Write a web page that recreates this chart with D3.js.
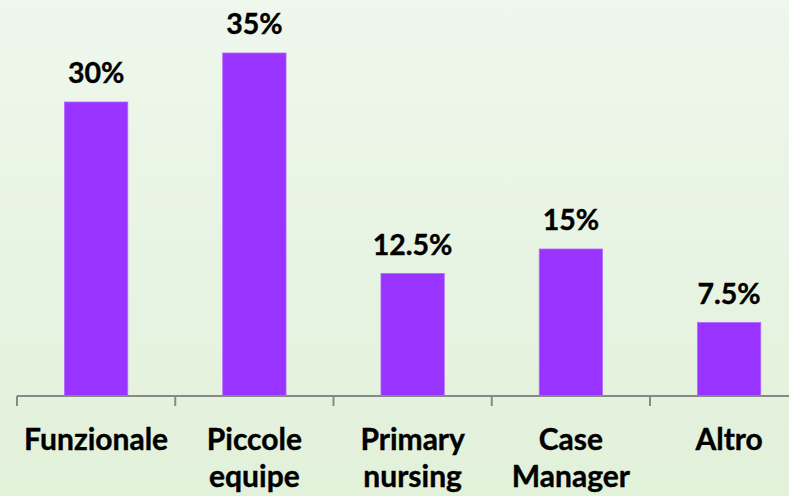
<!DOCTYPE html>
<html>
<head>
<meta charset="utf-8">
<script src="https://cdn.jsdelivr.net/npm/d3@7"></script>
<style>
  body { margin: 0; }
  svg { display: block; }
  text { font-family: Lato, "Open Sans", sans-serif; font-weight: bold; fill: #000; }
</style>
</head>
<body>
<svg id="chart" width="789" height="496"></svg>
<script>
// dati
var categorie = ["Funzionale", "Piccole equipe", "Primary nursing", "Case Manager", "Altro"];
var righe_etichetta = [["Funzionale"], ["Piccole", "equipe"], ["Primary", "nursing"], ["Case", "Manager"], ["Altro"]];
var valori = [30, 35, 12.5, 15, 7.5];
var etichette_valori = ["30%", "35%", "12.5%", "15%", "7.5%"];

var width = 789, height = 496;
var svg = d3.select("#chart");

// sfondo sfumato
var defs = svg.append("defs");
var grad = defs.append("linearGradient")
    .attr("id", "sfondo")
    .attr("x1", 0).attr("y1", 0).attr("x2", 0).attr("y2", 1);
grad.append("stop").attr("offset", "0%").attr("stop-color", "#eef7ec");
grad.append("stop").attr("offset", "100%").attr("stop-color", "#e2f1da");

svg.append("rect")
    .attr("width", width)
    .attr("height", height)
    .attr("fill", "url(#sfondo)");

var x = d3.scaleBand()
    .domain(categorie)
    .range([17, 808.25])
    .paddingInner(0.6)
    .paddingOuter(0.3);

var y = d3.scaleLinear()
    .domain([0, 40])
    .range([396, 4]);

// barre
svg.selectAll(".barra")
    .data(valori)
    .enter()
    .append("rect")
    .attr("class", "barra")
    .attr("x", function(d, i) { return x(categorie[i]); })
    .attr("y", function(d) { return y(d); })
    .attr("width", x.bandwidth())
    .attr("height", function(d) { return y(0) - y(d); })
    .attr("fill", "#9933ff")
    .attr("stroke", "#b366ff")
    .attr("stroke-width", 0.8);

// etichette dei valori
svg.selectAll(".valore")
    .data(valori)
    .enter()
    .append("text")
    .attr("class", "valore")
    .attr("x", function(d, i) { return x(categorie[i]) + x.bandwidth() / 2; })
    .attr("y", function(d) { return y(d) - 19; })
    .attr("text-anchor", "middle")
    .style("font-size", "28.5px")
    .style("stroke", "#000")
    .style("stroke-width", 0.4)
    .text(function(d, i) { return etichette_valori[i]; });

// asse x con tacche ai bordi delle categorie
var passo = x.step();
var bordi = d3.range(categorie.length + 1).map(function(i) { return 17 + i * passo; });

var asse = svg.append("g");
asse.append("line")
    .attr("x1", 17)
    .attr("x2", width)
    .attr("y1", y(0))
    .attr("y2", y(0))
    .attr("stroke", "#888888")
    .attr("stroke-width", 2);

asse.selectAll(".tacca")
    .data(bordi)
    .enter()
    .append("line")
    .attr("class", "tacca")
    .attr("x1", function(d) { return d; })
    .attr("x2", function(d) { return d; })
    .attr("y1", y(0))
    .attr("y2", y(0) + 10)
    .attr("stroke", "#888888")
    .attr("stroke-width", 2);

// etichette delle categorie
var etichette = svg.selectAll(".categoria")
    .data(righe_etichetta)
    .enter()
    .append("text")
    .attr("class", "categoria")
    .attr("text-anchor", "middle")
    .style("font-size", "30px")
    .style("stroke", "#000")
    .style("stroke-width", 0.4)
    .attr("transform", function(d, i) {
        return "translate(" + (x(categorie[i]) + x.bandwidth() / 2) + ",450)";
    });

etichette.selectAll("tspan")
    .data(function(d) { return d; })
    .enter()
    .append("tspan")
    .attr("x", 0)
    .attr("y", function(d, i) { return i * 37; })
    .text(function(d) { return d; });
</script>
</body>
</html>
